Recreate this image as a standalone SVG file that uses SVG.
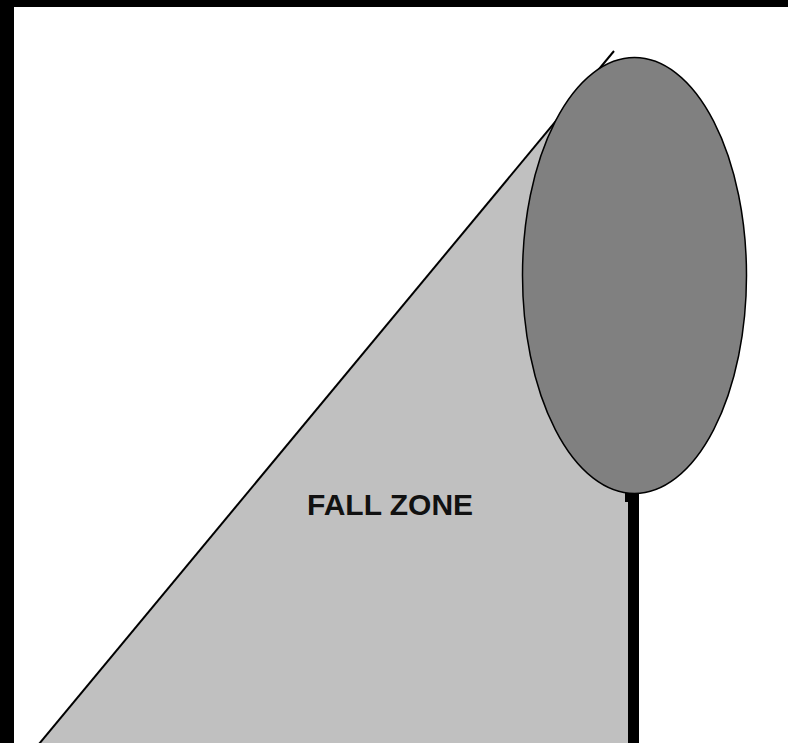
<svg xmlns="http://www.w3.org/2000/svg" width="788" height="743" viewBox="0 0 788 743">
<style>
.zone{fill:#c0c0c0;stroke:none}
.edge{stroke:#000;stroke-width:2;fill:none}
.head{fill:#808080;stroke:#000;stroke-width:1.5}
.pole{fill:#000}
.lbl{font-family:"Liberation Sans",Arial,sans-serif;font-weight:bold;font-size:30px;fill:#111}
</style>
<rect x="0" y="0" width="788" height="743" fill="#fff"/>
<rect x="0" y="0" width="788" height="7" fill="#000"/>
<rect x="0" y="0" width="14" height="743" fill="#000"/>
<g id="fall-zone">
<polygon class="zone" points="606,62 40,743 628,743 628,300 580,110"/>
<line class="edge" x1="614" y1="51" x2="39" y2="744"/>
</g>
<g id="tree-head">
<ellipse class="head" cx="634.5" cy="275.5" rx="112" ry="218"/>
</g>
<g id="pole">
<rect class="pole" x="628" y="494" width="11" height="249"/>
<rect class="pole" x="625" y="493" width="10" height="9"/>
</g>
<g id="label">
<text class="lbl" x="307" y="515">FALL ZONE</text>
</g>
</svg>
